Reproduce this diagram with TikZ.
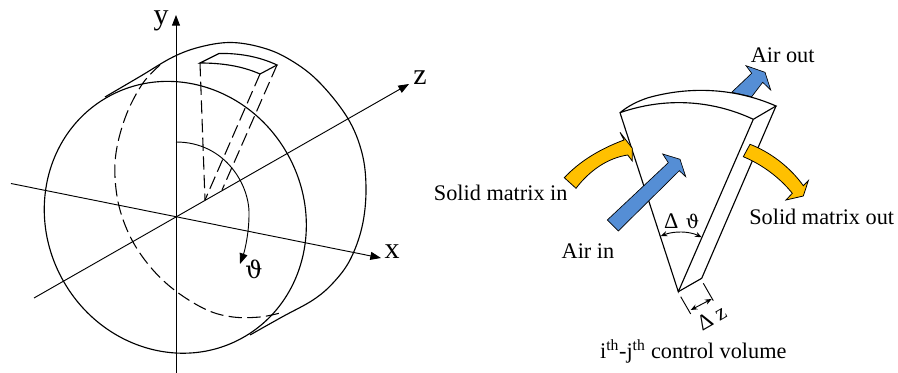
\documentclass[tikz,border=0pt]{standalone}
\usepackage{fontspec}
\setmainfont{Liberation Serif}
\newfontfamily\thetafont{DejaVu Serif}
\usetikzlibrary{arrows.meta}
\definecolor{airblue}{HTML}{558ED5}
\definecolor{solidorange}{HTML}{FFC000}
\tikzset{
  line/.style={draw=black,line width=0.85pt},
  thin line/.style={draw=black,line width=0.7pt},
  dash line/.style={draw=black,line width=0.8pt,dash pattern=on 10pt off 4pt},
  axis/.style={thin line,-{Triangle[length=8pt,width=6pt]}},
  dimarrow/.style={thin line,{Stealth[length=5pt,width=4pt]}-{Stealth[length=5pt,width=4pt]}},
  big/.style={font=\fontsize{22.5}{24}\selectfont,inner sep=0pt},
  lab/.style={font=\fontsize{16.7}{18}\selectfont,inner sep=0pt},
  airarrow/.style={fill=airblue,draw=black,line width=0.5pt,line join=miter},
  orangearrow/.style={fill=solidorange,draw=black,line width=0.6pt,line join=miter},
}
\begin{document}
\begin{tikzpicture}[x=0.75pt,y=-0.75pt]
\useasboundingbox (0,0) rectangle (898,373);
% cylinder
\draw[line,rotate around={-61:(175.3,217.3)}] (175.3,217.3) ellipse [x radius=138,y radius=128.8];
\draw[line] plot[smooth,tension=0.6] coordinates {(105,97) (140,76.5) (173,57) (200,47) (230,42.5) (260,47) (287,58) (317,80) (347,117) (362,153) (366,190) (362,227) (350,260) (333,283) (313,300) (282,317) (250,335)};
\draw[dash line] plot[smooth,tension=0.6] coordinates {(160,65) (143,83) (127,113) (117,147) (115,177) (120,210) (133,242) (153,270) (177,292) (207,310) (233,317) (260,317) (280,313)};
% axes
\coordinate (ya) at (176,373); \coordinate (yb) at (176,15);
\coordinate (za) at (34,298);  \coordinate (zb) at (409,84);
\coordinate (xa) at (11,183.5); \coordinate (xb) at (381,258);
\draw[axis] (ya) -- (yb);
\draw[axis] (za) -- (zb);
\draw[axis] (xa) -- (xb);
\node[big] (ylab) at (161,21) {y};
\node[big] (zlab) at (420,78) {z};
\node[big] (xlab) at (392,252) {x};
% small control volume
\draw[line] (200,63) -- (219,53.5) .. controls (240,53) and (260,57) .. (277,65) -- (260,74) .. controls (242,66) and (222,63) .. (200,63) -- cycle;
\draw[dash line] (200,63) -- (205,200);
\draw[dash line] (260,74) -- (205,200);
\draw[dash line] (277,65) -- (222,190);
% theta
\draw[thin line,-{Triangle[length=8pt,width=6pt]}] (176,142) .. controls (225,142) and (250,185) .. (249,215) .. controls (249,232) and (245,250) .. (240,264);
\node[inner sep=0pt,font=\fontsize{18}{20}\selectfont] (thlab) at (254,269) {\thetafont ϑ};
% air out arrow
\path[airarrow] (731.7,92.3) -- (751.7,73.3) -- (746,65.7) -- (765,72.3) -- (770.7,90) -- (762.7,82.3) -- (751.7,96.7) -- cycle;
% wedge
\fill[white] (620,112.7) .. controls (628,106) and (638,101) .. (648.3,97.7) .. controls (690,86) and (735,88) .. (776,106) -- (701.7,278.3) -- (678.3,291.7) -- cycle;
\draw[line] (620,112.7) .. controls (628,106) and (638,101) .. (648.3,97.7) .. controls (690,86) and (735,88) .. (776,106) -- (753.3,119.3) .. controls (712,100) and (665,97) .. (620,112.7) -- (678.3,291.7) -- (753.3,119.3);
\draw[line] (776,106) -- (701.7,278.3) -- (678.3,291.7);
% orange in
\path[orangearrow] (564.3,177.7) .. controls (580,161) and (600,149) .. (624,140) -- (620,132.3) -- (632.3,148.3) -- (632.3,161) -- (627.7,155) .. controls (608,158) and (590,170) .. (576,188.3) -- cycle;
% orange out
\path[orangearrow] (750,144.3) .. controls (770,152) and (790,167) .. (803.3,185.7) -- (808.3,180.7) -- (803.3,196) -- (786,200) -- (792.3,193.3) .. controls (780,178) and (763,165) .. (743.3,156.7) -- cycle;
% air in
\path[airarrow] (607.3,220) -- (668.3,162.7) -- (662.7,154) -- (680,159.3) -- (685.7,176.7) -- (679.3,170.7) -- (618.3,231) -- cycle;
% dimensions
\draw[dimarrow] (660.7,236) .. controls (674,231) and (689,231) .. (701.7,237.3);
\draw[thin line] (680.7,296.7) -- (690.7,314);
\draw[thin line] (703.3,283.3) -- (713.3,300.7);
\draw[dimarrow] (690.7,310) -- (711.7,299);
% labels
\node[lab] (dth) at (681.7,221) {Δ\,\,{\thetafont\fontsize{14}{16}\selectfont ϑ}};
\node[lab,rotate=30] (dz) at (711.7,317.3) {Δ z};
\node[lab] (airout) at (782.7,55.7) {Air out};
\node[lab] (airin) at (588,251) {Air in};
\node[lab] (smin) at (500.7,193) {Solid matrix in};
\node[lab] (smout) at (821.7,217) {Solid matrix out};
\node[lab] (cv) at (693.3,351.7) {i\textsuperscript{th}-j\textsuperscript{th} control volume};
\end{tikzpicture}
\end{document}
